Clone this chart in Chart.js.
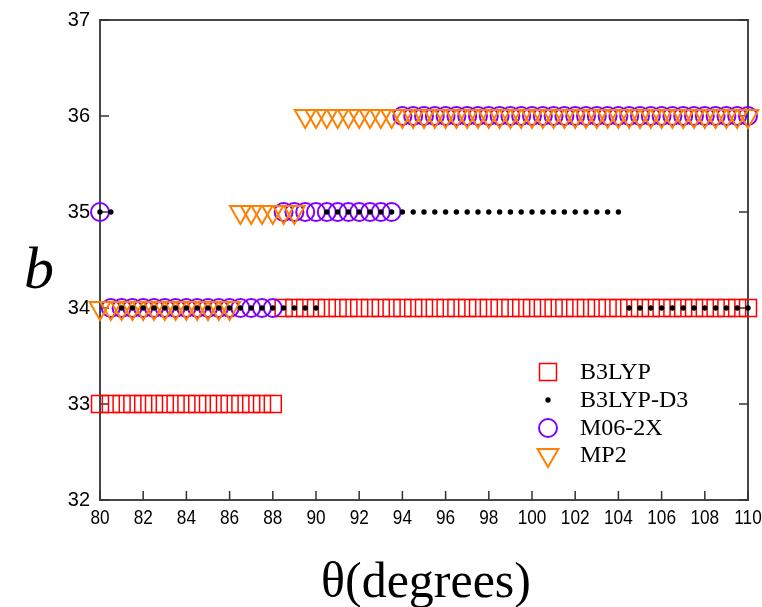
<!DOCTYPE html>
<html><head><meta charset="utf-8">
<script src="https://cdn.jsdelivr.net/npm/chart.js@4.4.0/dist/chart.umd.min.js"></script>
<style>html,body{margin:0;padding:0;background:#fff;}</style>
</head><body>
<canvas id="c" width="762" height="607"></canvas>
<script>
// theta (degrees) sampled every 0.5 deg
const thetaValues = [80,80.5,81,81.5,82,82.5,83,83.5,84,84.5,85,85.5,86,86.5,87,87.5,88,88.5,89,89.5,
  90,90.5,91,91.5,92,92.5,93,93.5,94,94.5,95,95.5,96,96.5,97,97.5,98,98.5,99,99.5,
  100,100.5,101,101.5,102,102.5,103,103.5,104,104.5,105,105.5,106,106.5,107,107.5,108,108.5,109,109.5,110];

const seriesNames = ['B3LYP','B3LYP-D3','M06-2X','MP2'];

const b3lyp = [33,33,33,33,33,33,33,33,33,33,33,33,33,33,33,33,33,34,34,34,
  34,34,34,34,34,34,34,34,34,34,34,34,34,34,34,34,34,34,34,34,
  34,34,34,34,34,34,34,34,34,34,34,34,34,34,34,34,34,34,34,34,34];

const b3lypD3 = [35,35,34,34,34,34,34,34,34,34,34,34,34,34,34,34,34,34,34,34,
  34,35,35,35,35,35,35,35,35,35,35,35,35,35,35,35,35,35,35,35,
  35,35,35,35,35,35,35,35,35,34,34,34,34,34,34,34,34,34,34,34,34];

const m062x = [35,34,34,34,34,34,34,34,34,34,34,34,34,34,34,34,34,35,35,35,
  35,35,35,35,35,35,35,35,36,36,36,36,36,36,36,36,36,36,36,36,
  36,36,36,36,36,36,36,36,36,36,36,36,36,36,36,36,36,36,36,36,36];

const mp2 = [34,34,34,34,34,34,34,34,34,34,34,34,34,35,35,35,35,35,35,36,
  36,36,36,36,36,36,36,36,36,36,36,36,36,36,36,36,36,36,36,36,
  36,36,36,36,36,36,36,36,36,36,36,36,36,36,36,36,36,36,36,36,36];

const xTickValues = [80,82,84,86,88,90,92,94,96,98,100,102,104,106,108,110];
const yTickValues = [32,33,34,35,36,37];

function toPoints(vals){
  const out = [];
  for (let i = 0; i < thetaValues.length; i++) {
    if (vals[i] !== null && vals[i] !== undefined) out.push({x: thetaValues[i], y: vals[i]});
  }
  return out;
}

const RED = '#ff0000', PURPLE = '#8000ff', ORANGE = '#ff8000', BLACK = '#000000';

const datasets = [
  {label: seriesNames[0], data: toPoints(b3lyp), pointStyle: 'rect', pointRadius: 12,
   borderColor: RED, backgroundColor: 'rgba(0,0,0,0)', borderWidth: 1.5, order: 3, clip: false},
  {label: seriesNames[1], data: toPoints(b3lypD3), pointStyle: 'circle', pointRadius: 2.7,
   borderColor: BLACK, backgroundColor: BLACK, borderWidth: 0, order: 0, clip: false},
  {label: seriesNames[2], data: toPoints(m062x), pointStyle: 'circle', pointRadius: 9,
   borderColor: PURPLE, backgroundColor: 'rgba(0,0,0,0)', borderWidth: 2, order: 2, clip: false},
  {label: seriesNames[3], data: toPoints(mp2), pointStyle: 'triangle', pointRadius: 12, rotation: 180,
   borderColor: ORANGE, backgroundColor: 'rgba(0,0,0,0)', borderWidth: 2, order: 1, clip: false}
];

const AXIS_COLOR = '#333333';
const SANS = '"Liberation Sans", Arial, sans-serif';

const decor = {
  id: 'decor',
  beforeDatasetsDraw(chart) {
    const {ctx, chartArea: a, scales} = chart;
    ctx.save();
    ctx.strokeStyle = AXIS_COLOR;
    ctx.lineWidth = 1.8;
    ctx.strokeRect(a.left, a.top, a.right - a.left, a.bottom - a.top);
    ctx.lineWidth = 1.5;
    ctx.beginPath();
    const TL = 9;
    yTickValues.forEach(v => {
      const y = scales.y.getPixelForValue(v);
      ctx.moveTo(a.left, y); ctx.lineTo(a.left + TL, y);
      ctx.moveTo(a.right, y); ctx.lineTo(a.right - TL, y);
    });
    xTickValues.forEach(v => {
      const x = scales.x.getPixelForValue(v);
      ctx.moveTo(x, a.bottom); ctx.lineTo(x, a.bottom - TL);
    });
    ctx.stroke();
    // x tick labels (slightly condensed, as in the original)
    ctx.fillStyle = '#000';
    ctx.font = '20px ' + SANS;
    ctx.textAlign = 'center';
    ctx.textBaseline = 'top';
    const sx = 0.86;
    xTickValues.forEach(v => {
      const x = scales.x.getPixelForValue(v);
      ctx.save();
      ctx.translate(x, a.bottom + 8);
      ctx.scale(sx, 1);
      ctx.fillText(String(v), 0, 0);
      ctx.restore();
    });
    ctx.restore();
  },
  afterDraw(chart) {
    const {ctx, chartArea: a} = chart;
    ctx.save();
    // axis titles
    ctx.fillStyle = '#000';
    ctx.font = '50px "Liberation Serif", "Times New Roman", serif';
    ctx.textAlign = 'center';
    ctx.textBaseline = 'alphabetic';
    ctx.fillText('\u03B8(degrees)', (a.left + a.right) / 2 + 2, 597);
    ctx.font = 'italic 60px "Liberation Serif", "Times New Roman", serif';
    ctx.fillText('b', 39, 288);
    // legend
    const lx = 548, tx = 580;
    const rows = [372, 400, 428, 455];
    ctx.font = '24px "Liberation Serif", "Times New Roman", serif';
    ctx.textAlign = 'left';
    ctx.textBaseline = 'middle';
    chart.data.datasets.forEach((ds, i) => {
      const y = rows[i];
      ctx.save();
      ctx.strokeStyle = ds.borderColor;
      ctx.fillStyle = ds.backgroundColor;
      ctx.lineWidth = ds.borderWidth || 1;
      ctx.beginPath();
      if (ds.pointStyle === 'rect') {
        const s = ds.pointRadius * Math.SQRT1_2;
        ctx.rect(lx - s, y - s, 2 * s, 2 * s);
        ctx.stroke();
      } else if (ds.pointStyle === 'triangle') {
        const r = ds.pointRadius;
        const rad = Math.PI;
        ctx.moveTo(lx + Math.sin(rad) * r, y - Math.cos(rad) * r);
        ctx.lineTo(lx + Math.sin(rad + 2 * Math.PI / 3) * r, y - Math.cos(rad + 2 * Math.PI / 3) * r);
        ctx.lineTo(lx + Math.sin(rad + 4 * Math.PI / 3) * r, y - Math.cos(rad + 4 * Math.PI / 3) * r);
        ctx.closePath();
        ctx.stroke();
      } else {
        ctx.arc(lx, y, ds.pointRadius, 0, Math.PI * 2);
        if (ds.borderWidth > 0) ctx.stroke(); else { ctx.fillStyle = ds.borderColor; ctx.fill(); }
      }
      ctx.restore();
      ctx.fillStyle = '#000';
      ctx.fillText(ds.label, tx, y + 1);
    });
    ctx.restore();
  }
};

const tickFont = {family: SANS, size: 20};

new Chart(document.getElementById('c'), {
  type: 'scatter',
  data: {datasets},
  options: {
    responsive: false,
    animation: false,
    devicePixelRatio: 1,
    layout: {padding: {top: 20, left: 0, right: 0, bottom: 0}},
    plugins: {legend: {display: false}, tooltip: {enabled: false}},
    scales: {
      x: {
        type: 'linear', position: 'bottom', min: 80, max: 110,
        afterBuildTicks: s => { s.ticks = xTickValues.map(v => ({value: v})); },
        ticks: {display: false},
        grid: {display: false, drawTicks: false},
        border: {display: false},
        afterFit: s => { s.height = 107; s.paddingRight = 0; s.paddingLeft = 0; }
      },
      y: {
        type: 'linear', position: 'left', min: 32, max: 37,
        afterBuildTicks: s => { s.ticks = yTickValues.map(v => ({value: v})); },
        ticks: {font: tickFont, color: '#000', padding: 10},
        grid: {display: false, drawTicks: false},
        border: {display: false},
        afterFit: s => { s.width = 100; s.paddingTop = 0; s.paddingBottom = 0; }
      },
      y2: {
        type: 'linear', position: 'right', min: 32, max: 37,
        ticks: {display: false},
        grid: {display: false, drawTicks: false},
        border: {display: false},
        afterFit: s => { s.width = 14; }
      }
    }
  },
  plugins: [decor]
});
</script>
</body></html>
